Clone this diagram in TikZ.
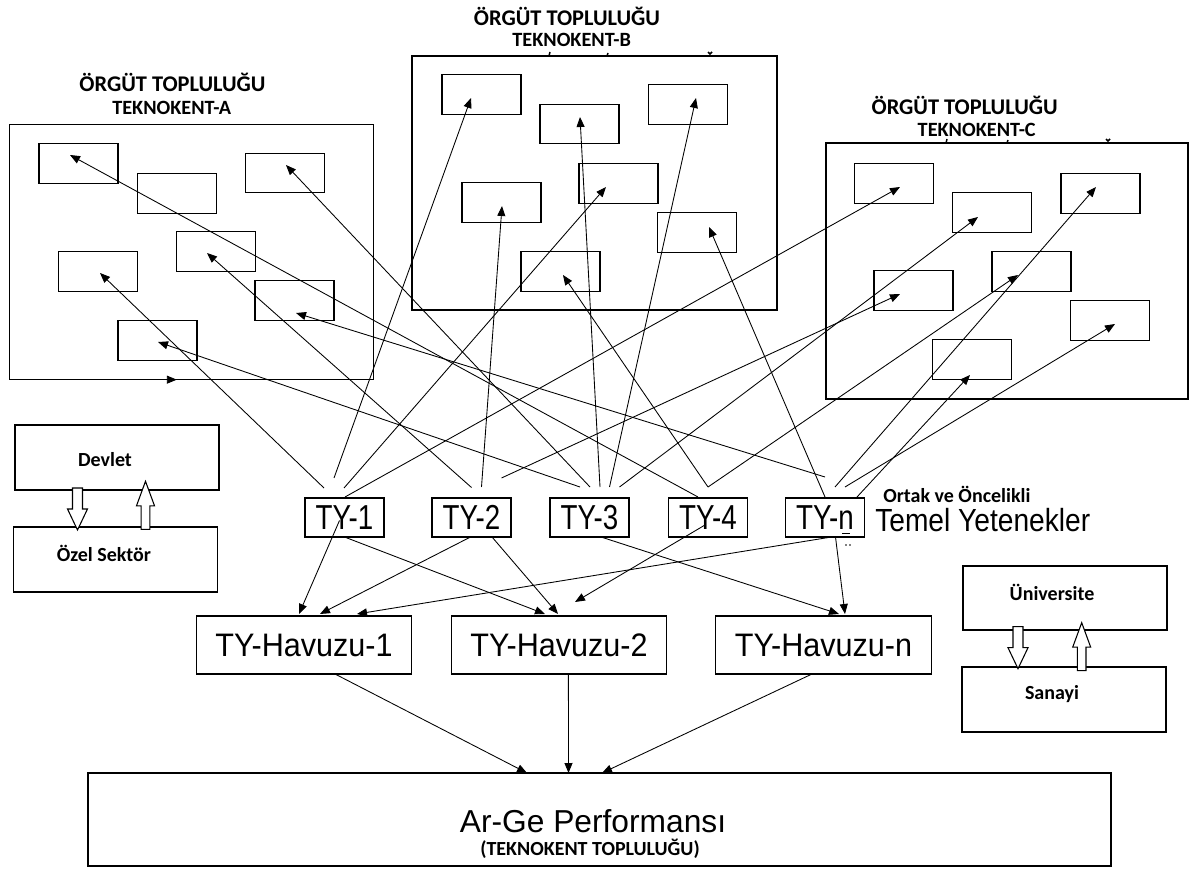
\documentclass[tikz,border=0pt]{standalone}
\usepackage{fontspec}
\setmainfont{Carlito}
\newfontfamily\tyfont[FakeStretch=0.8]{Liberation Sans}
\newfontfamily\temelfont[FakeStretch=0.88]{Liberation Sans}
\newfontfamily\poolfont[FakeStretch=0.94]{Liberation Sans}
\newfontfamily\argefont{Liberation Sans}
\usetikzlibrary{arrows.meta,calc}

\tikzset{
  frame/.style={draw, line width=0.8pt, inner sep=0pt, outer sep=0pt},
  cluster/.style={frame, minimum width=272.5pt, minimum height=191.5pt},
  cell/.style={frame, minimum width=59.25pt, minimum height=29.6pt},
  tybox/.style={frame, minimum width=59.25pt, minimum height=29.25pt,
    font=\tyfont\fontsize{26}{26}\selectfont},
  poolbox/.style={frame, minimum width=161.5pt, minimum height=43.5pt,
    font=\poolfont\fontsize{24.4}{26}\selectfont},
  actorbox/.style={frame, minimum width=153pt, minimum height=48.75pt},
  title/.style={anchor=base, inner sep=0pt, font=\bfseries\fontsize{16.8}{18}\selectfont},
  subtitle/.style={anchor=base, inner sep=0pt, font=\bfseries\fontsize{15.2}{17}\selectfont},
  small/.style={anchor=base, inner sep=0pt, font=\bfseries\fontsize{15}{17}\selectfont},
  link/.style={line width=0.65pt, -{Triangle[length=7.5pt,width=6pt]}},
  hollowdown/.pic={\draw[line width=0.8pt, fill=white]
    (-5,0) -- (5,0) -- (5,21) -- (10,21) -- (0,42) -- (-10,21) -- (-5,21) -- cycle;},
  hollowup/.pic={\draw[line width=0.8pt, fill=white]
    (-4.3,0) -- (4.3,0) -- (4.3,-23.5) -- (9,-23.5) -- (0,-48) -- (-9,-23.5) -- (-4.3,-23.5) -- cycle;},
}

\begin{document}
\begin{tikzpicture}[x=0.75pt, y=-0.75pt]
\useasboundingbox[fill=white] (0,0) rectangle (1189,873);

% ---------- cluster A ----------
\node[title]    (ta1) at (172.5,91.7) {ÖRGÜT TOPLULUĞU};
\node[subtitle] (ta2) at (171.7,115)  {TEKNOKENT-A};
\node[cluster] (cla) at (191.5,252) {};
\node[cell] (a1) at (78.5,163.5) {};
\node[cell] (a2) at (177,193.5) {};
\node[cell] (a3) at (285,173) {};
\node[cell] (a4) at (216,251.5) {};
\node[cell] (a5) at (98,271.5) {};
\node[cell] (a6) at (294.5,300.5) {};
\node[cell] (a7) at (157.5,340.5) {};
\draw[link] ([shift={(150,0)}]cla.south west) -- ([shift={(167,0)}]cla.south west);

% ---------- cluster B ----------
\node[title]    (tb1) at (567,25.3) {ÖRGÜT TOPLULUĞU};
\node[subtitle] (tb2) at (571.7,46.2)  {TEKNOKENT-B};
\node[cluster, minimum width=273.75pt, minimum height=190.5pt] (clb) at (594.5,183) {};
\node[cell] (b1) at (481.5,94.5) {};
\node[cell] (b2) at (579.5,124) {};
\node[cell] (b3) at (688,104.5) {};
\node[cell] (b4) at (501.5,202.5) {};
\node[cell] (b5) at (618.5,183.5) {};
\node[cell] (b6) at (697,232.5) {};
\node[cell] (b7) at (560.5,271.5) {};
\draw[line width=1.1pt] ([shift={(138,-4)}]clb.north west) -- ([shift={(137,0)}]clb.north west);
\draw[line width=1.1pt] ([shift={(196,-3)}]clb.north west) -- ([shift={(195,0)}]clb.north west);
\draw[line width=1.1pt] ([shift={(296,-4)}]clb.north west) -- ([shift={(298,-2)}]clb.north west) -- ([shift={(300,-4)}]clb.north west);

% ---------- cluster C ----------
\node[title]    (tc1) at (964.7,115) {ÖRGÜT TOPLULUĞU};
\node[subtitle] (tc2) at (976.7,136.7) {TEKNOKENT-C};
\node[cluster, minimum width=271.5pt, minimum height=192pt] (clc) at (1007,271) {};
\node[cell] (c1) at (894,183.5) {};
\node[cell] (c2) at (992,212.5) {};
\node[cell] (c3) at (1100.5,193.5) {};
\node[cell] (c4) at (913.5,290.5) {};
\node[cell] (c5) at (1031.5,271.5) {};
\node[cell] (c6) at (1110,320.5) {};
\node[cell] (c7) at (972,359.5) {};
\draw[line width=1.1pt] ([shift={(121,-4)}]clc.north west) -- ([shift={(120,0)}]clc.north west);
\draw[line width=1.1pt] ([shift={(182,-3)}]clc.north west) -- ([shift={(181,0)}]clc.north west);
\draw[line width=1.1pt] ([shift={(280,-4)}]clc.north west) -- ([shift={(282,-2)}]clc.north west) -- ([shift={(284,-4)}]clc.north west);

% ---------- core competences ----------
\node[tybox] (ty1) at (344.5,517.5) {TY-1};
\node[tybox] (ty2) at (471.5,517.5) {TY-2};
\node[tybox] (ty3) at (589.5,517.5) {TY-3};
\node[tybox] (ty4) at (708,517.5)   {TY-4};
\node[tybox] (tyn) at (825,517.5)   {TY-n};
\draw[line width=0.7pt] ([shift={(17,15.5)}]tyn.center) -- ([shift={(25,15.5)}]tyn.center);
\fill ([shift={(21,27.5)}]tyn.center) circle (0.9);
\fill ([shift={(25,27.5)}]tyn.center) circle (0.9);
\node[small, anchor=base west] (ortak) at (883,503) {Ortak ve Öncelikli};
\node[anchor=base west, inner sep=0pt, font=\temelfont\fontsize{24}{26}\selectfont] (temel) at (875,531) {Temel Yetenekler};

% ---------- competence pools ----------
\node[poolbox] (h1) at (304,645)   {TY-Havuzu-1};
\node[poolbox] (h2) at (559,645)   {TY-Havuzu-2};
\node[poolbox] (hn) at (823.5,645) {TY-Havuzu-n};

% ---------- R&D performance ----------
\node[frame, minimum width=767.25pt, minimum height=69.75pt] (arge) at (599.5,819.5) {};
\node[anchor=base, inner sep=0pt, font=\argefont\fontsize{23.8}{26}\selectfont] (argetxt) at (593,832.7) {Ar-Ge Performansı};
\node[small] (argesub) at (590,855) {(TEKNOKENT TOPLULUĞU)};

% ---------- actors ----------
\node[actorbox] (devlet) at (117,457.5) {};
\node[actorbox] (ozel)   at (115.5,559.5) {};
\node[small] (devlettxt) at (105,466.7) {Devlet};
\node[small] (ozeltxt)   at (104,561.7) {Özel Sektör};
\pic at ([shift={(62.5,-2)}]devlet.south west) {hollowdown};
\pic at ([shift={(132,2.3)}]ozel.north west) {hollowup};

\node[actorbox, minimum height=48pt] (uni) at (1065,598) {};
\node[actorbox] (sanayi) at (1064,699.5) {};
\node[small] (unitxt)    at (1052,600.7) {Üniversite};
\node[small] (sanayitxt) at (1052,699.3) {Sanayi};
\pic at ([shift={(55,-3.3)}]uni.south west) {hollowdown};
\pic at ([shift={(119.7,3.7)}]sanayi.north west) {hollowup};

% ---------- competences -> organisations ----------
\draw[link] ([shift={(-20.5,-10)}]ty1.north) -- ([shift={(2,1.5)}]a5.center);
\draw[link] ([shift={(-10.5,-20)}]ty1.north) -- ([shift={(-10.5,3.5)}]b1.center);
\draw[link] ([shift={(-0.5,-10)}]ty1.north)  -- ([shift={(-12.5,3.5)}]b5.center);
\draw[link] ([shift={(0.5,-1)}]ty1.north)    -- ([shift={(6,3.5)}]c1.center);

\draw[link] ([shift={(0,-10.5)}]ty2.north) -- ([shift={(-9,1.5)}]a4.center);
\draw[link] ([shift={(10,-11)}]ty2.north)  -- ([shift={(0.5,3.5)}]b4.center);
\draw[link] ([shift={(30,-20)}]ty2.north)  -- ([shift={(-13.5,3.5)}]c4.center);

\draw[link] ([shift={(-9.5,-11)}]ty3.north) -- ([shift={(0.5,1.5)}]a7.center);
\draw[link] ([shift={(0.5,-11)}]ty3.north)  -- ([shift={(1,-8)}]a3.center);
\draw[link] ([shift={(10.5,-11)}]ty3.north) -- ([shift={(0.5,-7)}]b2.center);
\draw[link] ([shift={(20,-11)}]ty3.north)   -- ([shift={(8,-6.5)}]b3.center);
\draw[link] ([shift={(30,-11)}]ty3.north)   -- ([shift={(-14,4.5)}]c2.center);

\draw[link] ([shift={(-10,-1)}]ty4.north) -- ([shift={(-8.5,-8.5)}]a1.center);
\draw[link] ([shift={(0,-11)}]ty4.north)  -- ([shift={(2.5,3.5)}]b7.center);
\draw[link] ([shift={(0,-11)}]ty4.north)  -- ([shift={(-13.5,3.5)}]c5.center);

\draw[link] ([shift={(0,-21)}]tyn.north)  -- ([shift={(1.5,12.5)}]a6.center);
\draw[link] ([shift={(0,-1)}]tyn.north)   -- ([shift={(12,-5.5)}]b6.center);
\draw[link] ([shift={(10,-11)}]tyn.north) -- ([shift={(-4.5,-6.5)}]c3.center);
\draw[link] ([shift={(20,-11)}]tyn.north) -- ([shift={(5,3.5)}]c6.center);
\draw[link] ([shift={(32,-1)}]tyn.north)  -- ([shift={(-2,15.5)}]c7.center);

% ---------- competences -> pools ----------
\draw[link] ([shift={(-5,3)}]ty1.center)  -- ([shift={(-5,-2)}]h1.north);
\draw[link] (ty1.south)                   -- ([shift={(-14,-2)}]h2.north);
\draw[link] ([shift={(-1,0)}]ty2.south)   -- ([shift={(16,-2)}]h1.north);
\draw[link] ([shift={(20.5,0)}]ty2.south) -- ([shift={(-1,-2)}]h2.north);
\draw[link] ([shift={(-3,7.5)}]ty4.center) -- ([shift={(16,-14)}]h2.north);
\draw[link] ([shift={(11.5,0)}]ty3.south) -- ([shift={(15.5,-2)}]hn.north);
\draw[link] ([shift={(6.5,0)}]tyn.south)  -- ([shift={(53,-2)}]h1.north);
\draw[link] ([shift={(10.5,0)}]tyn.south) -- ([shift={(21.5,-2)}]hn.north);

% ---------- pools -> performance ----------
\draw[link] ([shift={(31,0)}]h1.south)    -- ([shift={(-72.5,0)}]arge.north);
\draw[link] ([shift={(9.4,0)}]h2.south)   -- ([shift={(-31,0)}]arge.north);
\draw[link] ([shift={(-11.5,0)}]hn.south) -- ([shift={(2.5,0)}]arge.north);
\end{tikzpicture}
\end{document}
